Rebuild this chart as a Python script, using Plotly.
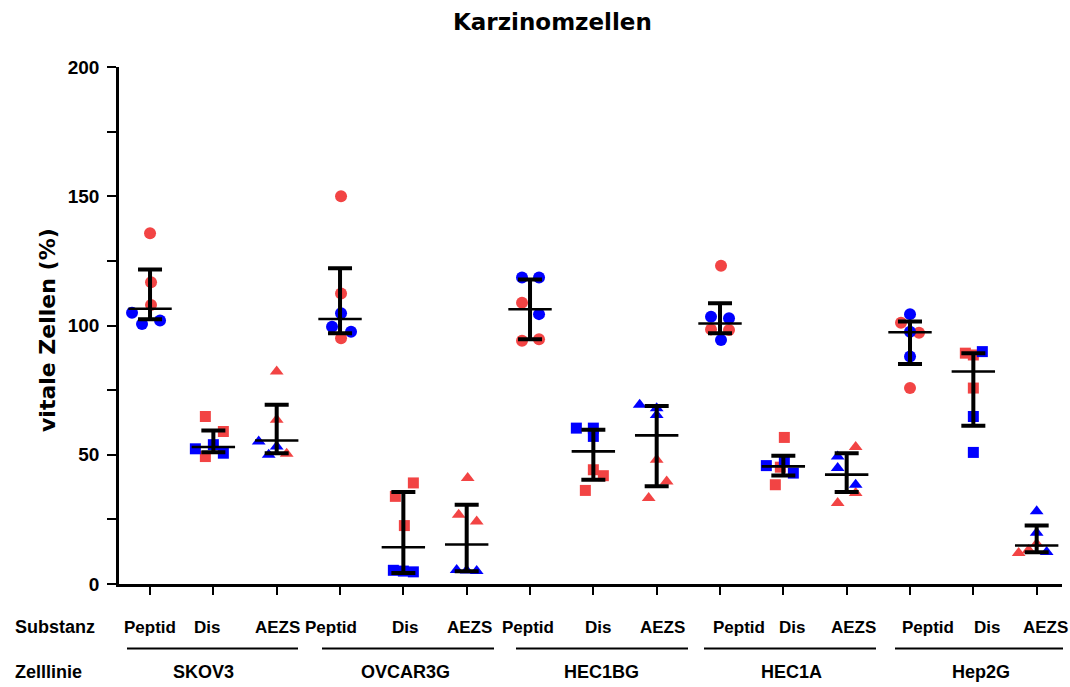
import plotly.graph_objects as go

# ---- data -------------------------------------------------------------
cell_lines = ["SKOV3", "OVCAR3G", "HEC1BG", "HEC1A", "Hep2G"]
substances = ["Peptid", "Dis", "AEZS"]

# vital cells (%) per group (cell line x substance), two experiment series
red_values = [
    [135.7, 116.7, 107.9],   # SKOV3 Peptid
    [64.8, 59.0, 49.3],      # SKOV3 Dis
    [82.2, 63.5, 50.4],      # SKOV3 AEZS
    [150.0, 112.4, 95.1],    # OVCAR3G Peptid
    [39.1, 33.9, 22.6],      # OVCAR3G Dis
    [41.0, 26.8, 24.2],      # OVCAR3G AEZS
    [108.8, 94.1, 94.7],     # HEC1BG Peptid
    [44.2, 41.9, 36.2],      # HEC1BG Dis
    [48.1, 39.7, 33.3],      # HEC1BG AEZS
    [123.1, 98.5, 98.3],     # HEC1A Peptid
    [56.7, 45.2, 38.4],      # HEC1A Dis
    [53.0, 35.2, 31.3],      # HEC1A AEZS
    [101.1, 97.2, 75.8],     # Hep2G Peptid
    [89.3, 88.6, 75.8],      # Hep2G Dis
    [12.0, 13.2, 15.6],      # Hep2G AEZS
]
blue_values = [
    [104.9, 100.6, 101.9],
    [52.3, 53.9, 50.6],
    [55.1, 53.2, 50.0],
    [104.7, 99.5, 97.6],
    [5.3, 5.0, 4.7],
    [5.4, 5.2, 5.0],
    [118.6, 118.6, 104.4],
    [60.3, 60.3, 57.1],
    [69.3, 68.0, 65.4],
    [103.4, 102.8, 94.4],
    [45.8, 47.4, 42.9],
    [49.3, 44.9, 38.4],
    [104.4, 97.6, 88.0],
    [89.9, 64.8, 50.9],
    [28.1, 19.8, 12.4],
]
# median with interquartile range per group
medians = [106.5, 53.0, 55.5, 102.5, 14.2, 15.3, 106.3, 51.3, 57.5,
           100.8, 45.5, 42.3, 97.4, 82.2, 14.9]
q_low = [102.4, 51.0, 50.6, 97.0, 4.3, 4.9, 94.7, 40.3, 37.8,
         97.0, 42.0, 35.6, 85.1, 61.2, 12.3]
q_high = [121.7, 59.4, 69.3, 122.1, 35.6, 30.7, 117.8, 59.7, 68.9,
          108.6, 49.6, 50.6, 101.5, 89.3, 22.6]

# ---- layout constants ------------------------------------------------
W, H = 1070, 687
M_L, M_R, M_T, M_B = 119, 8, 66.5, 102.5
X0, X1 = 0.51, 15.40
PLOT_W = W - M_L - M_R
PLOT_H = H - M_T - M_B
UNIT = PLOT_W / (X1 - X0)          # pixels per group step

def px_px(px):
    """horizontal pixel -> paper fraction"""
    return (px - M_L) / PLOT_W

def px_py(py):
    """vertical pixel -> paper fraction"""
    return (H - M_B - py) / PLOT_H

# horizontal scatter of the points (in pixels) around each group centre
red_offsets = [
    [0, 1, 1], [-8, 10, -8], [0, 0, 10], [1, 1, 1], [10, -8, 1],
    [1, -8, 10], [-8, -8, 9], [0, 10, -8], [0, 10, -8], [1, -9, 9],
    [1, -3, -8], [9, 9, -9], [-9, 9, 0], [-8, 0, 0], [-18, -8, 0],
]
blue_offsets = [
    [-18, -8, 10], [-18, 0, 10], [-18, 0, -8], [1, -8, 11], [-10, 0, 10],
    [-10, 0, 10], [-8, 9, 9], [-17, 0, 0], [-17, 0, 0], [-9, 9, 1],
    [-17, 1, 10], [-9, -9, 9], [0, 0, 0], [9, 0, 0], [0, 0, 10],
]

RED = "#F24444"
BLUE = "#0000FF"
SYMBOLS = {"Peptid": "circle", "Dis": "square", "AEZS": "triangle-up"}
SIZES = {"Peptid": 12, "Dis": 11, "AEZS": 12}

fig = go.Figure()

groups = [(c, s) for c in cell_lines for s in substances]
for values, offsets, color in ((red_values, red_offsets, RED),
                               (blue_values, blue_offsets, BLUE)):
    xs, ys, syms, sizes = [], [], [], []
    for g, (cl, sub) in enumerate(groups):
        for v, o in zip(values[g], offsets[g]):
            xs.append(g + 1 + o / UNIT)
            ys.append(v)
            syms.append(SYMBOLS[sub])
            sizes.append(SIZES[sub])
    fig.add_trace(go.Scatter(
        x=xs, y=ys, mode="markers",
        marker=dict(color=color, symbol=syms, size=sizes, opacity=1,
                    line=dict(width=0)),
        showlegend=False, hoverinfo="y",
    ))

# median line with interquartile whiskers
gx = list(range(1, len(groups) + 1))
fig.add_trace(go.Scatter(
    x=gx, y=medians, mode="markers",
    marker=dict(symbol="line-ew", size=31, opacity=1,
                line=dict(color="black", width=2.6)),
    error_y=dict(type="data", symmetric=False,
                 array=[h - m for h, m in zip(q_high, medians)],
                 arrayminus=[m - l for m, l in zip(medians, q_low)],
                 color="black", thickness=4, width=12),
    showlegend=False, hoverinfo="y",
))

# ---- category labels below the axis ----------------------------------
FAMILY = "Liberation Sans, Arial, sans-serif"
SUB_FONT = dict(family=FAMILY, size=17, color="black", weight="bold")
ROW_FONT = dict(family=FAMILY, size=18, color="black", weight="bold")
sub_label_px = [150, 207, 277, 331, 405, 469, 528, 598, 662,
                739, 792, 853, 928, 987, 1045]
line_px = [(127, 298), (322, 494), (516, 688), (704, 876), (895, 1063)]
cell_label_px = [203, 405, 601, 791, 981]

ROW_SUB, ROW_LINE, ROW_CELL = 628, 649, 673

annotations = []
for g, (cl, sub) in enumerate(groups):
    annotations.append(dict(
        x=px_px(sub_label_px[g]), y=px_py(ROW_SUB), xref="paper", yref="paper",
        text=sub, showarrow=False, font=SUB_FONT,
        xanchor="center", yanchor="middle"))
for i, cl in enumerate(cell_lines):
    annotations.append(dict(
        x=px_px(cell_label_px[i]), y=px_py(ROW_CELL), xref="paper", yref="paper",
        text=cl, showarrow=False, font=ROW_FONT,
        xanchor="center", yanchor="middle"))
annotations.append(dict(
    x=px_px(55), y=px_py(ROW_SUB), xref="paper", yref="paper", text="Substanz",
    showarrow=False, font=ROW_FONT, xanchor="center", yanchor="middle"))
annotations.append(dict(
    x=px_px(48), y=px_py(ROW_CELL), xref="paper", yref="paper", text="Zelllinie",
    showarrow=False, font=ROW_FONT, xanchor="center", yanchor="middle"))

# chart title and y axis title
annotations.append(dict(
    x=px_px(552), y=px_py(21), xref="paper", yref="paper", text="Karzinomzellen",
    showarrow=False, xanchor="center", yanchor="middle",
    font=dict(family="DejaVu Sans, Arial, sans-serif", size=23,
              color="black", weight="bold")))
annotations.append(dict(
    x=px_px(48), y=px_py(330), xref="paper", yref="paper", text="vitale Zellen (%)",
    showarrow=False, xanchor="center", yanchor="middle", textangle=-90,
    font=dict(family="DejaVu Sans, Arial, sans-serif", size=22,
              color="black", weight="bold")))

shapes = []
for a, b in line_px:
    shapes.append(dict(type="line", xref="paper", yref="paper",
                       x0=px_px(a), x1=px_px(b),
                       y0=px_py(ROW_LINE), y1=px_py(ROW_LINE),
                       line=dict(color="black", width=2)))

fig.update_layout(
    width=W, height=H,
    margin=dict(l=M_L, r=M_R, t=M_T, b=M_B, pad=0),
    paper_bgcolor="white", plot_bgcolor="white",
    showlegend=False,
    annotations=annotations,
    shapes=shapes,
    xaxis=dict(range=[X0, X1], showgrid=False, zeroline=False,
               showline=True, linecolor="black", linewidth=2.5,
               tickmode="array", tickvals=gx, ticktext=[""] * len(gx),
               ticks="outside", ticklen=8, tickwidth=2, tickcolor="black",
               showticklabels=False),
    yaxis=dict(range=[0, 200], showgrid=False, zeroline=False,
               showline=True, linecolor="black", linewidth=2.5,
               tickmode="array", tickvals=[0, 50, 100, 150, 200],
               ticks="outside", ticklen=9, tickwidth=2, tickcolor="black",
               ticklabelstandoff=4,
               tickfont=dict(family=FAMILY, size=19, color="black",
                             weight="bold"),
               minor=dict(tickmode="array", tickvals=[25, 75, 125, 175],
                          ticks="outside", ticklen=9, tickwidth=2,
                          tickcolor="black")),
)

fig.write_html("out.html")
